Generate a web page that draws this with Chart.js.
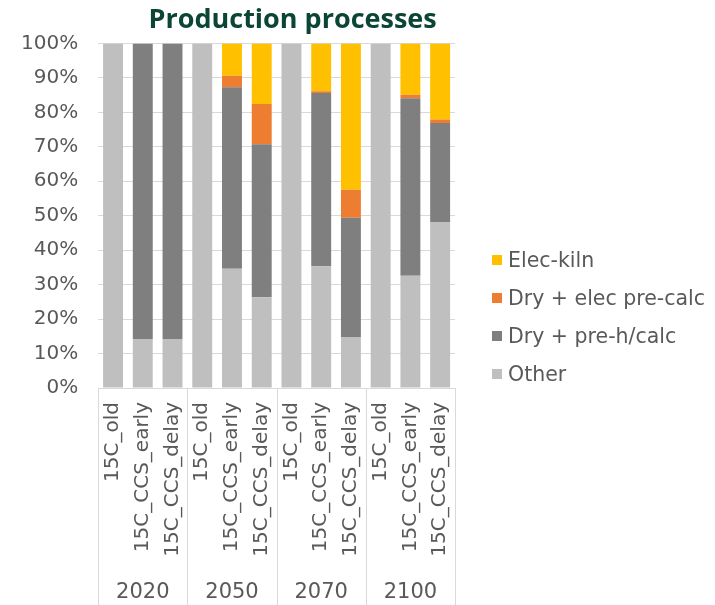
<!DOCTYPE html>
<html>
<head>
    <title>Production processes</title>
    <script src="https://cdn.jsdelivr.net/npm/chart.js"></script>
    <style>
        html, body { margin: 0; padding: 0; background: #ffffff; }
        #wrap { position: relative; width: 715px; height: 605px; }
        #legend {
            position: absolute; left: 492px; top: 241px;
            font-family: 'DejaVu Sans'; font-size: 20.5px; color: #595959;
        }
        .item { display: flex; align-items: center; height: 38px; white-space: nowrap; }
        .swatch { width: 10px; height: 10px; margin-right: 6px; flex: none; }
    </style>
</head>
<body>
    <div id="wrap">
        <canvas id="processChart" width="715" height="605"></canvas>
        <div id="legend"></div>
    </div>

    <script>
        // Scenario labels (bottom axis) and the years they are grouped under
        const scenarios = [
            '15C_old', '15C_CCS_early', '15C_CCS_delay',
            '15C_old', '15C_CCS_early', '15C_CCS_delay',
            '15C_old', '15C_CCS_early', '15C_CCS_delay',
            '15C_old', '15C_CCS_early', '15C_CCS_delay'
        ];
        const years = ['2020', '2050', '2070', '2100'];

        // Share of production per process, in %
        const other      = [100, 14.2, 14.2, 100, 34.6, 26.3, 100, 35.3, 14.8, 100, 32.6, 48.2];
        const dryPreCalc = [0, 85.8, 85.8, 0, 52.7, 44.4, 0, 50.3, 34.6, 0, 51.5, 28.7];
        const dryElecPre = [0, 0, 0, 0, 3.3, 11.7, 0, 0.5, 8.1, 0, 1.0, 1.0];
        const elecKiln   = [0, 0, 0, 0, 9.4, 17.6, 0, 13.9, 42.5, 0, 14.9, 22.1];

        const yTicks = [0, 10, 20, 30, 40, 50, 60, 70, 80, 90, 100];

        const textGrey = '#595959';
        const lineGrey = '#d9d9d9';

        // Lines between the year groups, running from the axis down to the bottom
        const groupLines = {
            id: 'groupLines',
            afterDraw(chart) {
                const ctx = chart.ctx;
                const area = chart.chartArea;
                const perGroup = scenarios.length / years.length;
                const step = area.width / scenarios.length;
                ctx.save();
                ctx.strokeStyle = lineGrey;
                ctx.lineWidth = 1;
                for (let g = 0; g <= years.length; g++) {
                    const x = Math.round(area.left + g * perGroup * step) + 0.5;
                    ctx.beginPath();
                    ctx.moveTo(x, area.bottom);
                    ctx.lineTo(x, chart.height);
                    ctx.stroke();
                }
                ctx.restore();
            }
        };

        // Title sits a bit right of the plot centre in the original
        const shiftTitle = {
            id: 'shiftTitle',
            afterLayout(chart) {
                chart.titleBlock.left += 16;
                chart.titleBlock.right += 16;
            }
        };

        // Legend built as HTML from the datasets, top item = last dataset
        function buildLegend(chart) {
            const box = document.getElementById('legend');
            chart.data.datasets.slice().reverse().forEach(ds => {
                const row = document.createElement('div');
                row.className = 'item';
                const sw = document.createElement('span');
                sw.className = 'swatch';
                sw.style.background = ds.backgroundColor;
                const txt = document.createElement('span');
                txt.textContent = ds.label;
                row.appendChild(sw);
                row.appendChild(txt);
                box.appendChild(row);
            });
        }

        function makeSet(label, values, colour) {
            return {
                label: label,
                data: values,
                backgroundColor: colour,
                borderWidth: 0,
                barPercentage: 0.67,
                categoryPercentage: 1.0
            };
        }

        const ctx = document.getElementById('processChart').getContext('2d');
        const chart = new Chart(ctx, {
            type: 'bar',
            data: {
                labels: scenarios,
                datasets: [
                    makeSet('Other', other, '#bfbfbf'),
                    makeSet('Dry + pre-h/calc', dryPreCalc, '#7f7f7f'),
                    makeSet('Dry + elec pre-calc', dryElecPre, '#ed7d31'),
                    makeSet('Elec-kiln', elecKiln, '#ffc000')
                ]
            },
            plugins: [groupLines, shiftTitle],
            options: {
                responsive: false,
                animation: false,
                layout: {
                    padding: { left: 1, right: 260, top: 4, bottom: 0 }
                },
                plugins: {
                    title: {
                        display: true,
                        text: 'Production processes',
                        color: '#0b4536',
                        fullSize: false,
                        font: { family: 'Open Sans', size: 27, weight: 'bold' },
                        padding: { top: 0, bottom: 7 }
                    },
                    legend: { display: false },
                    tooltip: { enabled: false }
                },
                scales: {
                    x: {
                        stacked: true,
                        grid: { display: false, drawTicks: false },
                        border: { display: true, color: lineGrey },
                        afterFit(axis) { axis.height = 178; },
                        ticks: {
                            color: textGrey,
                            font: { family: 'DejaVu Sans', size: 20 },
                            minRotation: 90,
                            maxRotation: 90,
                            autoSkip: false,
                            padding: 14
                        }
                    },
                    x2: {
                        type: 'category',
                        labels: years,
                        position: 'bottom',
                        offset: true,
                        grid: { display: false, drawTicks: false },
                        border: { display: false },
                        afterFit(axis) { axis.height = 39; },
                        ticks: {
                            color: textGrey,
                            font: { family: 'DejaVu Sans', size: 21 },
                            padding: 14
                        }
                    },
                    y: {
                        stacked: true,
                        min: 0,
                        max: 100,
                        afterBuildTicks(axis) {
                            axis.ticks = yTicks.map(v => ({ value: v }));
                        },
                        grid: { color: lineGrey, drawTicks: false },
                        border: { display: false },
                        ticks: {
                            color: textGrey,
                            font: { family: 'DejaVu Sans', size: 20 },
                            padding: 20,
                            callback: value => value + '%'
                        }
                    }
                }
            }
        });
        buildLegend(chart);
    </script>
</body>
</html>
